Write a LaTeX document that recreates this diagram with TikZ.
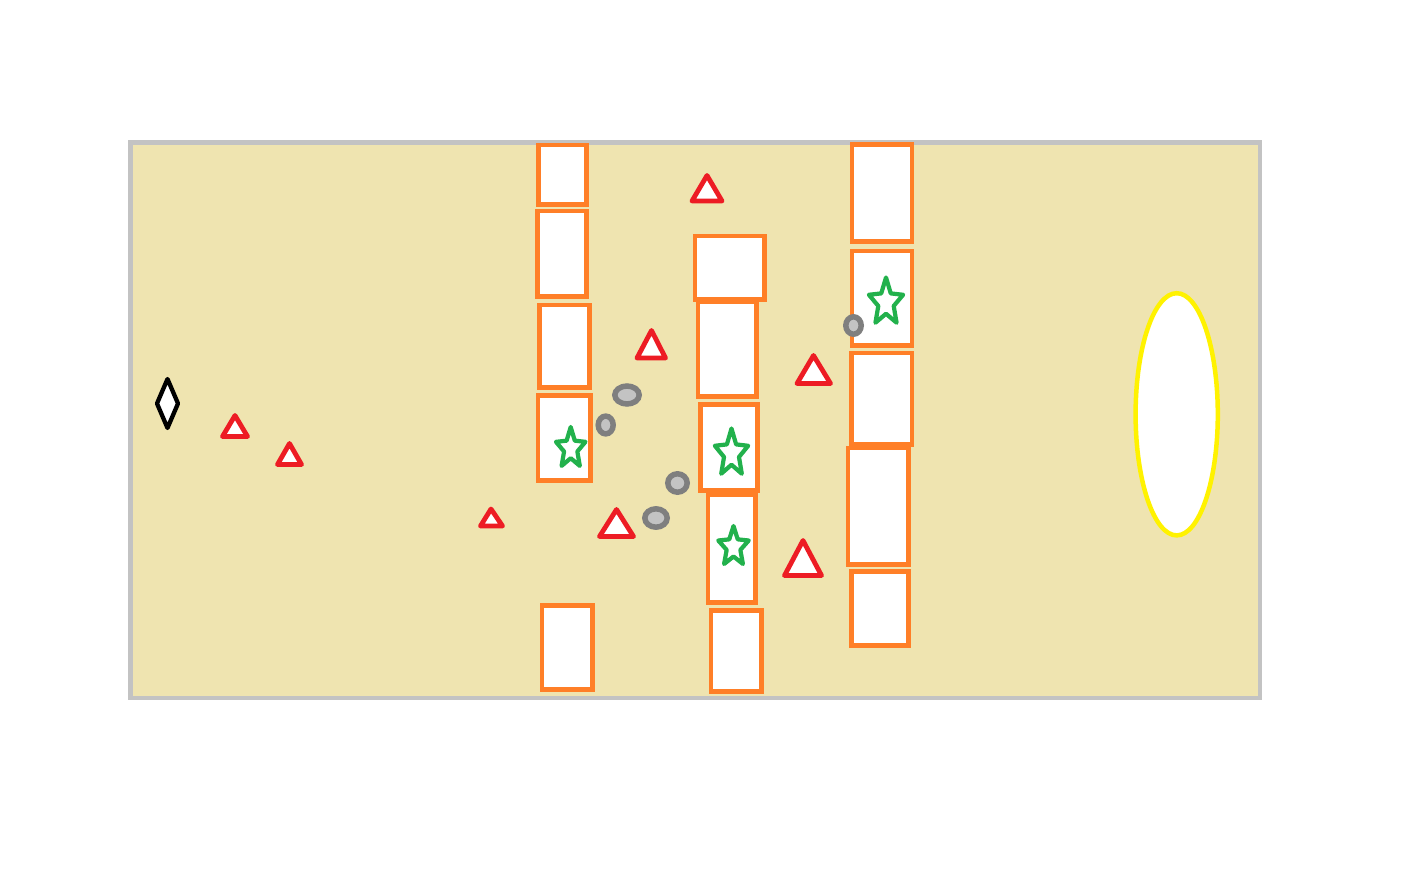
\documentclass[tikz,border=0pt]{standalone}
\definecolor{bgtan}{HTML}{EFE4B0}
\definecolor{framegray}{HTML}{C3C3C3}
\definecolor{boxorange}{HTML}{FF7F27}
\definecolor{trired}{HTML}{ED1C24}
\definecolor{stargreen}{HTML}{22B14C}
\definecolor{pebdark}{HTML}{7F7F7F}
\definecolor{peblight}{HTML}{C3C3C3}
\definecolor{ovalyellow}{HTML}{FFF200}
\newcommand\greenstar[4]{%
  \draw[starshape] ({#1},{#2-#4})
  \foreach \a/\r in {126/0.45,162/1,198/0.45,234/1,270/0.45,306/1,342/0.45,18/1,54/0.45}
  { -- ({#1+\r*#3*cos(\a)},{#2-\r*#4*sin(\a)}) } -- cycle;}
\begin{document}
\begin{tikzpicture}[x=1pt,y=-1pt,
  field/.style={draw=framegray,fill=bgtan,line width=4.5pt},
  boxshape/.style={draw=boxorange,fill=white,line width=4.8pt},
  trishape/.style={draw=trired,fill=white,line width=4.8pt,line join=round},
  starshape/.style={draw=stargreen,fill=white,line width=4.2pt,line join=round},
  pebble/.style={draw=pebdark,fill=peblight,line width=5.5pt},
  oval/.style={draw=ovalyellow,fill=white,line width=4.5pt},
  kite/.style={draw=black,fill=white,line width=4.3pt,line join=round}]
\useasboundingbox (0,0) rectangle (1419,890);
\fill[white] (0,0) rectangle (1419,890);
% field
\draw[field] (130.5,142.5) rectangle (1260,698);
% column 1
\draw[boxshape] (538.5,145) rectangle (586.5,204.5);
\draw[boxshape] (537.5,211) rectangle (586.5,296.5);
\draw[boxshape] (539.5,305) rectangle (589.5,387.5);
\draw[boxshape] (538,395.5) rectangle (590.5,480.5);
\draw[boxshape] (542,605.5) rectangle (592.5,689.5);
% column 2
\draw[boxshape] (698,302) rectangle (756.5,396.5);
\draw[boxshape] (695,236) rectangle (764.5,299.5);
\draw[boxshape] (700.5,404.5) rectangle (757.5,490.5);
\draw[boxshape] (708,494.5) rectangle (755.5,602.5);
\draw[boxshape] (711,610.5) rectangle (761.5,691.5);
% column 3
\draw[boxshape] (852,144.5) rectangle (912,241.5);
\draw[boxshape] (852,251) rectangle (912,345.5);
\draw[boxshape] (851.5,353) rectangle (912,444.5);
\draw[boxshape] (848,448) rectangle (908.5,564.5);
\draw[boxshape] (851.5,571.5) rectangle (908.5,645.5);
% stars
\greenstar{570.7}{448.5}{15.5}{21.5}
\greenstar{731.5}{453.5}{17.5}{25}
\greenstar{733.5}{547}{16}{21}
\greenstar{886}{302.5}{18}{25}
% triangles
\draw[trishape] (707,175.5) -- (692,201) -- (722,201) -- cycle;
\draw[trishape] (651.5,330.5) -- (637,358) -- (665.5,358) -- cycle;
\draw[trishape] (813.5,355.5) -- (797,383.5) -- (830.5,383.5) -- cycle;
\draw[trishape] (616.5,509.5) -- (599.5,536.5) -- (633.5,536.5) -- cycle;
\draw[trishape] (803,540.5) -- (784.5,575.5) -- (821.5,575.5) -- cycle;
\draw[trishape] (235,415.5) -- (222.5,436.5) -- (247.5,436.5) -- cycle;
\draw[trishape] (289.5,443.5) -- (277.5,464.5) -- (301.5,464.5) -- cycle;
\draw[trishape] (491,509) -- (480.5,526) -- (502.5,526) -- cycle;
% pebbles
\draw[pebble] (627,395) ellipse [x radius=12.2, y radius=9];
\draw[pebble] (605.7,425) ellipse [x radius=7.5, y radius=8.9];
\draw[pebble] (677.5,483) ellipse [x radius=9.7, y radius=9.2];
\draw[pebble] (656,518) ellipse [x radius=11.2, y radius=9.2];
\draw[pebble] (853.5,325.5) ellipse [x radius=7.7, y radius=8.7];
% diamond
\draw[kite] (167.5,379) -- (178,403.5) -- (167.5,428) -- (157,403.5) -- cycle;
% yellow oval
\draw[oval] (1176.7,414.3) ellipse [x radius=41.1, y radius=121.1];
\end{tikzpicture}
\end{document}
